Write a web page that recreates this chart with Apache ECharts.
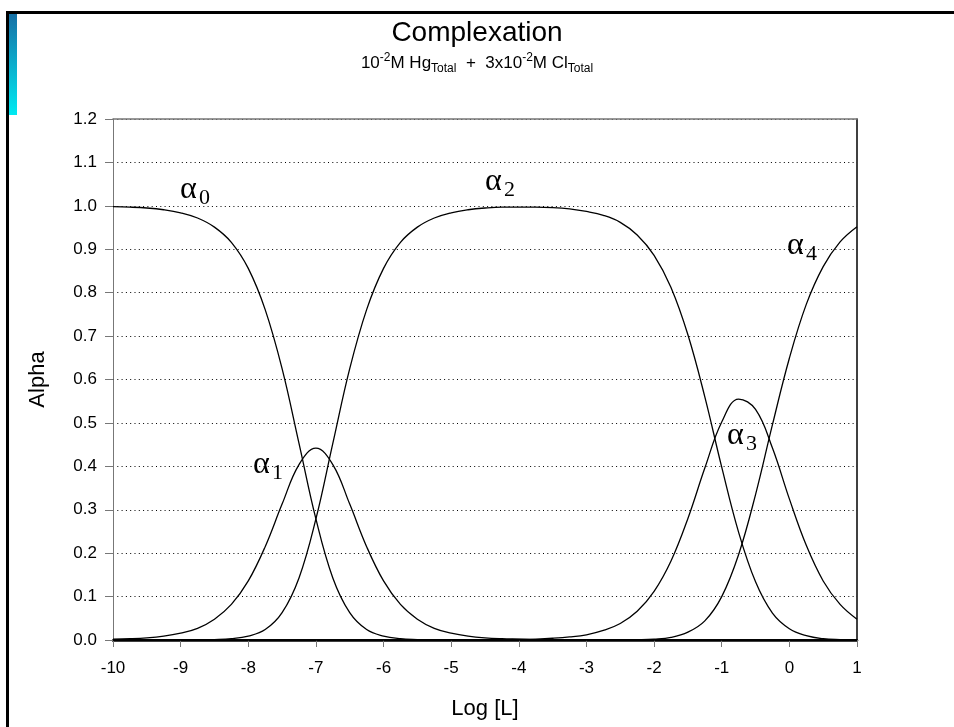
<!DOCTYPE html>
<html>
<head>
<meta charset="utf-8">
<script src="https://cdn.jsdelivr.net/npm/echarts@6/dist/echarts.min.js"></script>
<style>
html,body{margin:0;padding:0;background:#fff;}
#c{width:954px;height:727px;}
</style>
</head>
<body>
<div id="c"></div>
<script>
// Log [L] values
var logL = [-10, -9.75, -9.5, -9.25, -9, -8.75, -8.5, -8.25, -8, -7.75, -7.5, -7.25, -7, -6.75, -6.5, -6.25, -6, -5.75, -5.5, -5.25, -5, -4.75, -4.5, -4.25, -4, -3.75, -3.5, -3.25, -3, -2.75, -2.5, -2.25, -2, -1.75, -1.5, -1.25, -1, -0.75, -0.5, -0.25, 0, 0.25, 0.5, 0.75, 1];

var alpha0 = [0.998, 0.997, 0.995, 0.991, 0.984, 0.972, 0.951, 0.916, 0.856, 0.761, 0.625, 0.453, 0.279, 0.143, 0.063, 0.024, 0.009, 0.003, 0.001, 0, 0, 0, 0, 0, 0, 0, 0, 0, 0, 0, 0, 0, 0, 0, 0, 0, 0, 0, 0, 0, 0, 0, 0, 0, 0];

var alpha1 = [0.002, 0.003, 0.005, 0.009, 0.016, 0.027, 0.048, 0.082, 0.136, 0.215, 0.313, 0.404, 0.442, 0.404, 0.313, 0.215, 0.136, 0.082, 0.048, 0.027, 0.016, 0.009, 0.005, 0.003, 0.002, 0.001, 0.0005, 0.0003, 0.0002, 0.0001, 0, 0, 0, 0, 0, 0, 0, 0, 0, 0, 0, 0, 0, 0, 0];

var alpha2 = [0, 0, 0, 0, 0.0001, 0.0003, 0.001, 0.003, 0.009, 0.024, 0.063, 0.143, 0.279, 0.453, 0.625, 0.761, 0.856, 0.916, 0.951, 0.972, 0.984, 0.991, 0.995, 0.997, 0.997, 0.997, 0.996, 0.993, 0.987, 0.978, 0.962, 0.933, 0.886, 0.812, 0.703, 0.560, 0.398, 0.248, 0.134, 0.062, 0.026, 0.010, 0.003, 0.001, 0.0004];

var alpha3 = [0, 0, 0, 0, 0, 0, 0, 0, 0, 0, 0, 0, 0, 0, 0, 0, 0, 0, 0, 0, 0.0001, 0.0002, 0.0004, 0.0007, 0.0013, 0.0022, 0.004, 0.007, 0.012, 0.022, 0.038, 0.066, 0.112, 0.182, 0.280, 0.396, 0.502, 0.555, 0.531, 0.442, 0.325, 0.218, 0.136, 0.082, 0.048];

var alpha4 = [0, 0, 0, 0, 0, 0, 0, 0, 0, 0, 0, 0, 0, 0, 0, 0, 0, 0, 0, 0, 0, 0, 0, 0, 0, 0, 0, 0, 0, 0.0001, 0.0002, 0.0007, 0.002, 0.006, 0.018, 0.044, 0.100, 0.197, 0.335, 0.496, 0.649, 0.773, 0.860, 0.917, 0.952];

var seriesNames = ['α0', 'α1', 'α2', 'α3', 'α4'];
var seriesValues = [alpha0, alpha1, alpha2, alpha3, alpha4];

var title = 'Complexation';
var xName = 'Log [L]';
var yName = 'Alpha';

function pairs(vals) {
  return logL.map(function (x, i) { return [x, vals[i]]; });
}

var chart = echarts.init(document.getElementById('c'), null, {renderer: 'canvas'});
var F = 'Liberation Sans, Arial, sans-serif';
var S = 'Liberation Serif, Times New Roman, serif';

var series = seriesValues.map(function (v, i) {
  return {
    name: seriesNames[i],
    type: 'line',
    data: pairs(v),
    showSymbol: false,
    smooth: 0.4,
    lineStyle: {color: '#000', width: 1.3},
    silent: true,
    z: 5
  };
});

// curve labels: [subscript, left px of alpha, bottom px of alpha]
var curveLabels = [
  ['0', 180, 203],
  ['1', 253, 478],
  ['2', 485, 195],
  ['3', 727, 449],
  ['4', 787, 259]
];
var graphics = [];
curveLabels.forEach(function (l) {
  graphics.push({
    type: 'text', left: l[1], top: l[2] - 29, z: 10,
    style: {text: 'α', font: '32px ' + S, fill: '#000'}
  });
  graphics.push({
    type: 'text', left: l[1] + 19, top: l[2] - 16, z: 10,
    style: {text: l[0], font: '22px ' + S, fill: '#000'}
  });
});
// frame
graphics.push({type: 'rect', shape: {x: 6, y: 11, width: 948, height: 3}, style: {fill: '#000'}});
graphics.push({type: 'rect', shape: {x: 6, y: 11, width: 3, height: 716}, style: {fill: '#000'}});
graphics.push({type: 'rect', shape: {x: 9, y: 14, width: 8, height: 101},
  style: {fill: new echarts.graphic.LinearGradient(0, 0, 0, 1, [
    {offset: 0, color: '#1670a6'}, {offset: 1, color: '#00eaf2'}])}});
// subtitle
graphics.push({
  type: 'text', left: 'center', top: 52,
  style: {
    text: '{n|10}{p|-2}{n|M Hg}{b|Total}{n|  +  3x10}{p|-2}{n|M Cl}{b|Total}',
    rich: {
      n: {font: '17px ' + F, fill: '#000', lineHeight: 23, verticalAlign: 'middle'},
      p: {font: '12px ' + F, fill: '#000', lineHeight: 13, verticalAlign: 'top'},
      b: {font: '12px ' + F, fill: '#000', lineHeight: 13, verticalAlign: 'bottom'}
    }
  }
});

var option = {
  backgroundColor: '#fff',
  animation: false,
  title: {
    text: title, left: 'center', top: 14,
    textStyle: {fontFamily: F, fontSize: 28, fontWeight: 'normal', color: '#000'}
  },
  grid: {left: 113, right: 97, top: 119, bottom: 87},
  xAxis: [{
    type: 'value', min: -10, max: 1, interval: 1,
    name: xName, nameLocation: 'middle', nameGap: 58,
    nameTextStyle: {fontFamily: F, fontSize: 22, color: '#000'},
    axisLine: {onZero: false, lineStyle: {color: '#000', width: 2.5}},
    axisTick: {length: 7, lineStyle: {color: '#777', width: 1}},
    axisLabel: {fontFamily: F, fontSize: 17, color: '#000', margin: 20},
    splitLine: {show: false}
  }, {
    type: 'value', min: -10, max: 1, position: 'top',
    axisLine: {show: true, onZero: false, lineStyle: {color: '#777', width: 1.5}},
    axisTick: {show: false}, axisLabel: {show: false}, splitLine: {show: false}
  }],
  yAxis: [{
    type: 'value', min: 0, max: 1.2, interval: 0.1,
    name: yName, nameLocation: 'middle', nameGap: 64, nameRotate: 90,
    nameTextStyle: {fontFamily: F, fontSize: 22, color: '#000'},
    axisLine: {show: true, onZero: false, lineStyle: {color: '#777', width: 1}},
    axisTick: {show: true, length: 8, lineStyle: {color: '#777', width: 1}},
    axisLabel: {fontFamily: F, fontSize: 17, color: '#000', margin: 16,
      formatter: function (v) { return v.toFixed(1); }},
    splitLine: {show: true, lineStyle: {color: '#000', width: 1, type: [1, 3.3]}}
  }, {
    type: 'value', min: 0, max: 1.2, position: 'right',
    axisLine: {show: true, onZero: false, lineStyle: {color: '#000', width: 1.5}},
    axisTick: {show: false}, axisLabel: {show: false}, splitLine: {show: false}
  }],
  series: series,
  graphic: graphics
};
chart.setOption(option);
</script>
</body>
</html>
